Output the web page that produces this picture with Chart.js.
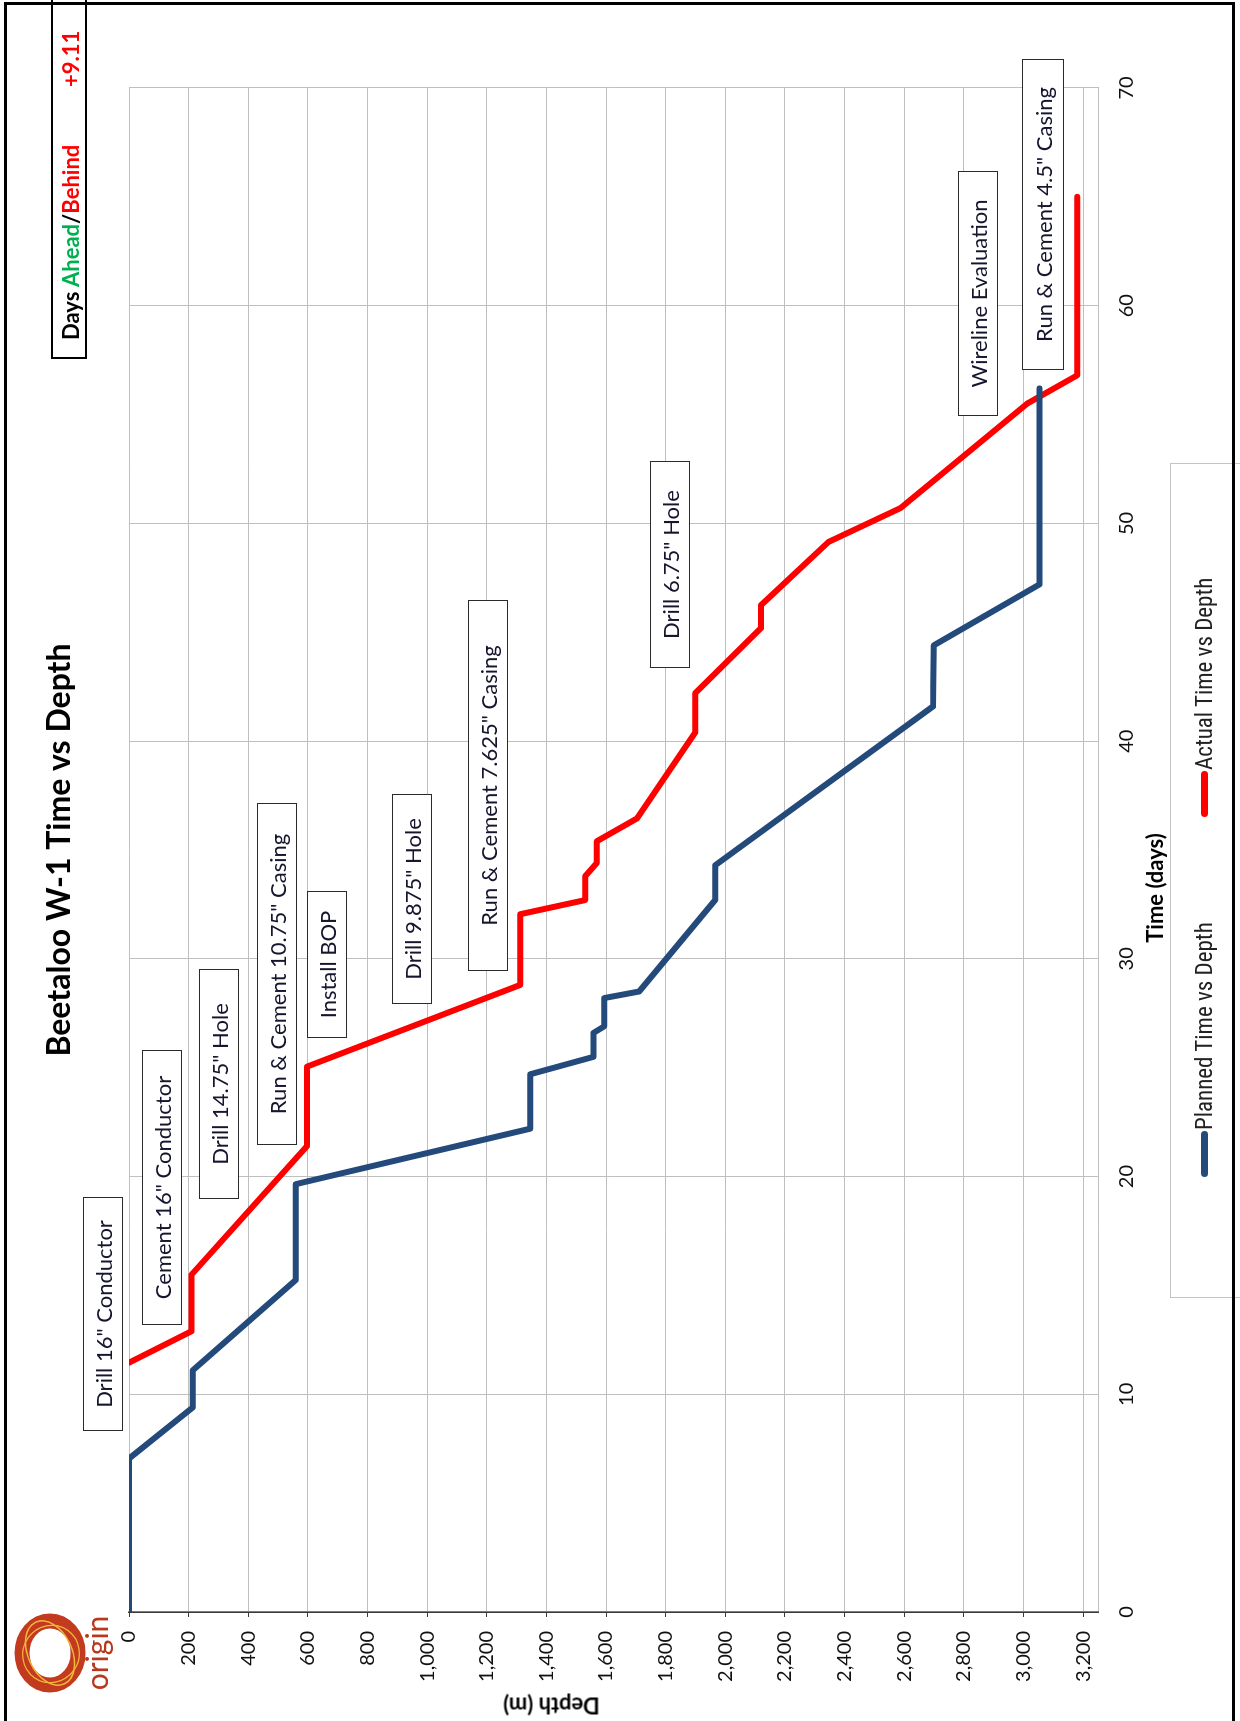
<!DOCTYPE html>
<html lang="en">
<head>
<meta charset="UTF-8">
<title>Beetaloo W-1 Time vs Depth</title>
<script src="https://cdn.jsdelivr.net/npm/chart.js@4.4.0/dist/chart.umd.min.js"></script>
<style>
    html, body { margin: 0; padding: 0; background: #fff; }
    body { width: 1240px; height: 1721px; position: relative; overflow: hidden; font-family: Lato, "Noto Sans", sans-serif; }
    /* the sheet is laid out landscape, then turned a quarter anticlockwise */
    #sheet { position: absolute; left: 0; top: 1721px; width: 1721px; height: 1240px; transform-origin: 0 0; transform: rotate(-90deg); background: #fff; }
    #sheet canvas { position: absolute; left: 0; top: 0; }
    .note { position: absolute; height: 40px; box-sizing: border-box; border: 1.5px solid #2b2b2b; background: #fff;
            display: flex; align-items: center; justify-content: center; font-size: 22px; color: #15152e; white-space: nowrap; }
    .axis-title { position: absolute; font-weight: bold; font-size: 22px; color: #000; text-align: center; white-space: nowrap; }
    #legend { position: absolute; left: 423px; top: 1170px; width: 835px; height: 90px; box-sizing: border-box;
              border: 1px solid #c4c4c4; background: #fff; }
    .leg-item { position: absolute; top: 20px; display: flex; align-items: center; font-family: "Liberation Sans Narrow", "Roboto Condensed", Lato, sans-serif;
                font-size: 23px; color: #222; white-space: nowrap; }
    .leg-line { width: 46px; height: 7px; border-radius: 4px; margin-right: 1px; }
    #days { position: absolute; left: 1362px; top: 51px; width: 420px; height: 36px; box-sizing: border-box; border: 2px solid #000;
            font-weight: bold; font-size: 22px; }
    #days span { position: absolute; top: 4px; }
    #frame { position: absolute; left: -10px; top: 4px; width: 1729px; height: 1231px; box-sizing: border-box; border: 3px solid #000; pointer-events: none; }
    #logo { position: absolute; left: 24px; top: 12px; }
    #logo-text { position: absolute; left: 25px; top: 82px; width: 86px; text-align: center; font-size: 30px; line-height: 28px; color: #b8381e; }
</style>
</head>
<body>
<div id="sheet">
    <canvas id="chart" width="1721" height="1240"></canvas>

    <div class="note" style="left:290px; top:83px; width:234px;">Drill 16" Conductor</div>
    <div class="note" style="left:396px; top:142px; width:275px;">Cement 16" Conductor</div>
    <div class="note" style="left:522px; top:199px; width:230px;">Drill 14.75" Hole</div>
    <div class="note" style="left:576px; top:257px; width:342px;">Run &amp; Cement 10.75" Casing</div>
    <div class="note" style="left:683px; top:307px; width:147px;">Install BOP</div>
    <div class="note" style="left:717px; top:392px; width:210px;">Drill 9.875" Hole</div>
    <div class="note" style="left:750px; top:468px; width:371px;">Run &amp; Cement 7.625" Casing</div>
    <div class="note" style="left:1053px; top:650px; width:207px;">Drill 6.75" Hole</div>
    <div class="note" style="left:1305px; top:958px; width:245px;">Wireline Evaluation</div>
    <div class="note" style="left:1351px; top:1022px; width:311px; height:42px;">Run &amp; Cement 4.5" Casing</div>

    <div class="axis-title" style="left:733px; top:1141px; width:200px;">Time (days)</div>
    <div class="axis-title" style="left:-65px; top:538px; width:160px; transform:rotate(-90deg);">Depth (m)</div>

    <div id="legend"></div>

    <div id="days">
        <span style="left:17px;">Days <span style="position:static;color:#00b050;">Ahead</span>/<span style="position:static;color:#ff0000;">Behind</span></span>
        <span style="left:270px; color:#ff0000;">+9.11</span>
    </div>

    <svg id="logo" width="90" height="76" viewBox="0 0 90 76">
        <ellipse cx="44" cy="38" rx="32" ry="28" fill="none" stroke="#c23b1f" stroke-width="15"/>
        <ellipse cx="44" cy="38" rx="34" ry="22" fill="none" stroke="#f4b63a" stroke-width="1.5" transform="rotate(-25 44 38)"/>
        <ellipse cx="43" cy="39" rx="29" ry="28" fill="none" stroke="#f4b63a" stroke-width="1.3" transform="rotate(35 43 39)"/>
    </svg>
    <div id="logo-text">origin</div>

    <div id="frame"></div>
</div>

<script>
    // planned curve (days, metres)
    const plannedDays  = [0, 7.05, 9.4, 11.1, 15.25, 19.65, 22.2, 24.7, 25.5, 26.6, 26.9, 28.2, 28.5, 32.7, 34.3, 41.6, 44.4, 47.2, 56.2];
    const plannedDepth = [0, 0, 214, 214, 559, 559, 1346, 1346, 1558, 1558, 1594, 1594, 1711, 1966, 1966, 2697, 2699, 3054, 3054];

    // actual curve (days, metres)
    const actualDays  = [11.45, 12.9, 15.5, 21.4, 25.05, 28.8, 32.05, 32.7, 33.8, 34.4, 35.4, 36.45, 40.4, 42.2, 45.2, 46.25, 49.15, 50.7, 55.5, 56.8, 65.0];
    const actualDepth = [0, 210, 210, 597, 597, 1312, 1312, 1530, 1530, 1569, 1569, 1704, 1899, 1899, 2120, 2120, 2346, 2587, 3012, 3180, 3180];

    const seriesNames = ['Planned Time vs Depth', 'Actual Time vs Depth'];
    const seriesColors = ['#244a7c', '#ff0000'];

    const FONT = 'Lato, "Noto Sans", sans-serif';

    function toPoints(xs, ys) {
        return xs.map((x, i) => ({ x: x, y: ys[i] }));
    }

    const lineStyle = {
        borderWidth: 6,
        pointRadius: 0,
        tension: 0,
        borderCapStyle: 'round',
        borderJoinStyle: 'round',
        fill: false
    };

    const chart = new Chart(document.getElementById('chart'), {
        type: 'line',
        data: {
            datasets: [
                Object.assign({ label: seriesNames[0], data: toPoints(plannedDays, plannedDepth), borderColor: seriesColors[0], backgroundColor: seriesColors[0] }, lineStyle),
                Object.assign({ label: seriesNames[1], data: toPoints(actualDays, actualDepth), borderColor: seriesColors[1], backgroundColor: seriesColors[1] }, lineStyle)
            ]
        },
        options: {
            responsive: false,
            animation: false,
            devicePixelRatio: 1,
            layout: { padding: { left: 0, right: 88, top: 0, bottom: 82 } },
            plugins: {
                legend: { display: false },
                tooltip: { enabled: false },
                title: {
                    display: true,
                    fullSize: false,
                    text: 'Beetaloo W-1 Time vs Depth',
                    color: '#000',
                    font: { family: FONT, size: 32, weight: 'bold', lineHeight: 1.2 },
                    padding: { top: 40, bottom: 50.6 }
                }
            },
            scales: {
                x: {
                    type: 'linear',
                    min: 0,
                    max: 70,
                    ticks: { stepSize: 10, padding: 17, color: '#111', font: { family: FONT, size: 20 } },
                    grid: { color: '#bfbfbf', drawTicks: false },
                    border: { color: '#bfbfbf' },
                    afterFit: (scale) => { scale.height = 60; }
                },
                y: {
                    type: 'linear',
                    min: 0,
                    max: 3250,
                    reverse: true,
                    ticks: {
                        stepSize: 200,
                        includeBounds: false,
                        padding: 14,
                        color: '#111',
                        font: { family: FONT, size: 20 },
                        callback: (v) => v.toLocaleString('en-US')
                    },
                    grid: { color: '#bfbfbf', tickColor: '#3a3a3a', tickLength: 5 },
                    border: { color: '#3a3a3a', width: 1.5 },
                    afterFit: (scale) => { scale.width = 109; }
                }
            }
        }
    });

    // legend box built from the datasets
    const legend = document.getElementById('legend');
    const legendLeft = [120, 480];
    chart.data.datasets.forEach((ds, i) => {
        const item = document.createElement('div');
        item.className = 'leg-item';
        item.style.left = legendLeft[i] + 'px';
        item.innerHTML = `<div class="leg-line" style="background:${ds.borderColor}"></div><span>${ds.label}</span>`;
        legend.appendChild(item);
    });
</script>
</body>
</html>
